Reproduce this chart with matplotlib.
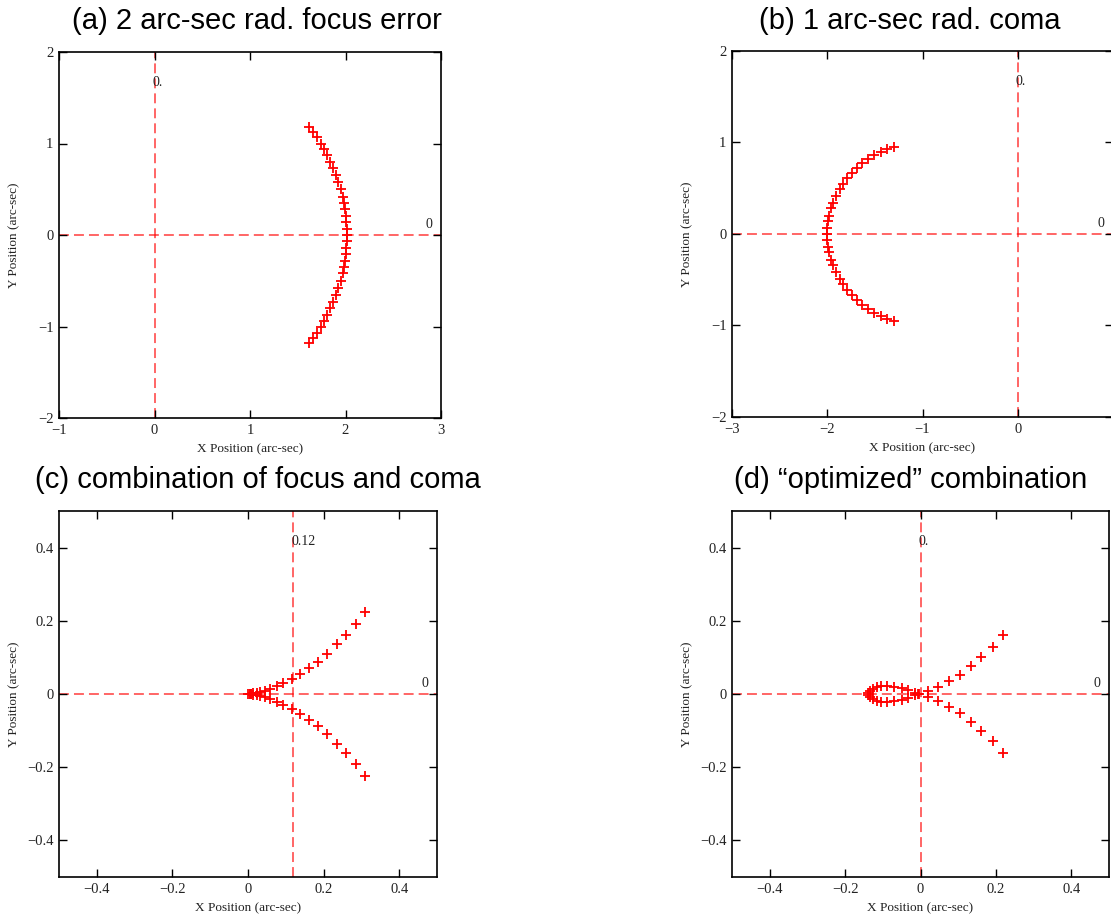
import matplotlib
matplotlib.use('Agg')
import matplotlib.pyplot as plt
import matplotlib.transforms as mtransforms

# Fonts: serif axes text, sans titles
plt.rcParams['font.family'] = 'Liberation Serif'
plt.rcParams['axes.unicode_minus'] = True

# ---- data ----
# (a) focus error: arc of radius ~2 (upper half, then lower half)
a_x_up = [1.62, 1.66, 1.70, 1.74, 1.78, 1.81, 1.84, 1.87, 1.90, 1.92,
          1.95, 1.97, 1.985, 1.995, 2.005, 2.01, 2.015, 2.02]
a_y_up = [1.18, 1.13, 1.07, 1.00, 0.94, 0.87, 0.80, 0.73, 0.66, 0.58,
          0.50, 0.42, 0.35, 0.28, 0.21, 0.14, 0.07, 0.00]
a_x_lo = [1.62, 1.66, 1.70, 1.74, 1.78, 1.81, 1.84, 1.87, 1.90, 1.92,
          1.95, 1.97, 1.985, 1.995, 2.005, 2.01, 2.015]
a_y_lo = [-1.18, -1.13, -1.07, -1.00, -0.94, -0.87, -0.80, -0.73, -0.66, -0.58,
          -0.50, -0.42, -0.35, -0.28, -0.21, -0.14, -0.07]

# (b) coma: half circle of radius 1 centred on (-1, 0)
b_x_up = [-1.30, -1.37, -1.44, -1.51, -1.57, -1.63, -1.69, -1.74, -1.79, -1.83,
          -1.87, -1.91, -1.94, -1.96, -1.98, -1.99, -2.00, -2.00]
b_y_up = [0.95, 0.93, 0.90, 0.86, 0.82, 0.78, 0.72, 0.67, 0.61, 0.55,
          0.49, 0.42, 0.34, 0.28, 0.20, 0.14, 0.07, 0.00]
b_x_lo = [-1.30, -1.37, -1.44, -1.51, -1.57, -1.63, -1.69, -1.74, -1.79, -1.83,
          -1.87, -1.91, -1.94, -1.96, -1.98, -1.99, -2.00]
b_y_lo = [-0.95, -0.93, -0.90, -0.86, -0.82, -0.78, -0.72, -0.67, -0.61, -0.55,
          -0.49, -0.42, -0.34, -0.28, -0.20, -0.14, -0.07]

# (c) focus + coma
c_x_up = [0.310, 0.285, 0.259, 0.235, 0.210, 0.184, 0.161, 0.138, 0.116, 0.093,
          0.076, 0.058, 0.045, 0.032, 0.023, 0.014, 0.008, 0.004, 0.001]
c_y_up = [0.225, 0.191, 0.162, 0.136, 0.109, 0.088, 0.071, 0.056, 0.041, 0.031,
          0.023, 0.015, 0.008, 0.005, 0.003, 0.002, 0.001, 0.000, 0.000]
c_x_lo = [0.310, 0.285, 0.259, 0.235, 0.210, 0.184, 0.161, 0.138, 0.116, 0.093,
          0.076, 0.058, 0.045, 0.032, 0.023, 0.014, 0.008, 0.004]
c_y_lo = [-0.225, -0.191, -0.162, -0.136, -0.109, -0.088, -0.071, -0.056, -0.041, -0.031,
          -0.023, -0.015, -0.008, -0.005, -0.003, -0.002, -0.001, -0.000]

# (d) optimized combination: branch to the right plus small loop to the left
d_x_up = [0.220, 0.192, 0.161, 0.133, 0.104, 0.076, 0.046, 0.020, -0.006, -0.014,
          -0.032, -0.050, -0.069, -0.090, -0.105, -0.116, -0.127, -0.134, -0.139]
d_y_up = [0.160, 0.128, 0.100, 0.077, 0.052, 0.035, 0.020, 0.008, 0.001, 0.004,
          0.011, 0.017, 0.019, 0.021, 0.021, 0.018, 0.014, 0.009, 0.003]
d_x_lo = [0.220, 0.192, 0.161, 0.133, 0.104, 0.076, 0.046, 0.020, -0.004, -0.014,
          -0.032, -0.050, -0.069, -0.090, -0.105, -0.116, -0.127, -0.134, -0.139]
d_y_lo = [-0.160, -0.128, -0.100, -0.077, -0.052, -0.035, -0.020, -0.008, -0.001, -0.004,
          -0.011, -0.017, -0.019, -0.021, -0.021, -0.018, -0.014, -0.009, -0.003]

titles = ['(a) 2 arc-sec rad. focus error', '(b) 1 arc-sec rad. coma',
          '(c) combination of focus and coma', '(d) \u201coptimized\u201d combination']
xlims = [(-1, 3), (-3, 1), (-0.5, 0.5), (-0.5, 0.5)]
ylims = [(-2, 2), (-2, 2), (-0.5, 0.5), (-0.5, 0.5)]
xticks = [[-1, 0, 1, 2, 3], [-3, -2, -1, 0], [-0.4, -0.2, 0, 0.2, 0.4], [-0.4, -0.2, 0, 0.2, 0.4]]
xticklabels = [['\u22121', '0', '1', '2', '3'], ['\u22123', '\u22122', '\u22121', '0'],
               ['\u22120.4', '\u22120.2', '0', '0.2', '0.4'], ['\u22120.4', '\u22120.2', '0', '0.2', '0.4']]
yticks = [[-2, -1, 0, 1, 2], [-2, -1, 0, 1, 2], [-0.4, -0.2, 0, 0.2, 0.4], [-0.4, -0.2, 0, 0.2, 0.4]]
yticklabels = [['\u22122', '\u22121', '0', '1', '2'], ['\u22122', '\u22121', '0', '1', '2'],
               ['\u22120.4', '\u22120.2', '0', '0.2', '0.4'], ['\u22120.4', '\u22120.2', '0', '0.2', '0.4']]
vline_x = [0, 0, 0.12, 0]
vline_label = ['0.', '0.', '0.12', '0.']
series = [(a_x_up, a_y_up, a_x_lo, a_y_lo), (b_x_up, b_y_up, b_x_lo, b_y_lo),
          (c_x_up, c_y_up, c_x_lo, c_y_lo), (d_x_up, d_y_up, d_x_lo, d_y_lo)]

# ---- layout (pixel boxes of the original) ----
W, H = 1111, 918
boxes = [(59, 52, 441, 418), (732, 51, 1113, 417), (59, 511, 437, 877), (732, 511, 1109, 877)]
title_pos = [(257, 21), (910, 21), (258, 480), (911, 480)]

fig = plt.figure(figsize=(W / 100, H / 100), dpi=100)
red = '#ff0000'
dash = (0, (5.5, 2.8))

for i in range(4):
    x0, y0, x1, y1 = boxes[i]
    ax = fig.add_axes([x0 / W, 1 - y1 / H, (x1 - x0) / W, (y1 - y0) / H])
    xu, yu, xl, yl = series[i]

    # reference lines
    ax.axhline(0, color=red, alpha=0.65, lw=1.3, linestyle=dash, zorder=1)
    ax.axvline(vline_x[i], color=red, alpha=0.65, lw=1.3, linestyle=dash, zorder=1)

    # spot diagram
    ax.plot(xu, yu, '+', color=red, ms=7, mew=1.3, zorder=3)
    ax.plot(xl, yl, '+', color=red, ms=7, mew=1.3, zorder=3)

    # line labels
    tr = mtransforms.blended_transform_factory(ax.transData, ax.transAxes)
    ax.text(vline_x[i] - (xlims[i][1] - xlims[i][0]) * 0.005, 0.918, vline_label[i],
            transform=tr, fontsize=10, ha='left', va='center', color='#222222')
    tr2 = mtransforms.blended_transform_factory(ax.transAxes, ax.transData)
    ax.text(0.968, (ylims[i][1] - ylims[i][0]) * 0.028, '0', transform=tr2,
            fontsize=10, ha='center', va='center', color='#222222')

    ax.set_xlim(*xlims[i])
    ax.set_ylim(*ylims[i])
    ax.set_xticks(xticks[i])
    ax.set_xticklabels(xticklabels[i])
    ax.set_yticks(yticks[i])
    ax.set_yticklabels(yticklabels[i])
    ax.tick_params(direction='in', length=6, width=1, top=True, right=True,
                   labelsize=10.5, pad=4, colors='black', labelcolor='#222222')
    for s in ax.spines.values():
        s.set_linewidth(1.2)
    ax.set_xlabel('X Position (arc-sec)', fontsize=9.5, labelpad=5, color='#222222')
    ax.set_ylabel('Y Position (arc-sec)', fontsize=9.5, color='#222222')
    ax.yaxis.set_label_coords(-0.102, 0.5)

    fig.text(title_pos[i][0] / W, 1 - title_pos[i][1] / H, titles[i],
             fontsize=21, family='Liberation Sans', ha='center', va='center')

fig.savefig('out.png', dpi=100)
